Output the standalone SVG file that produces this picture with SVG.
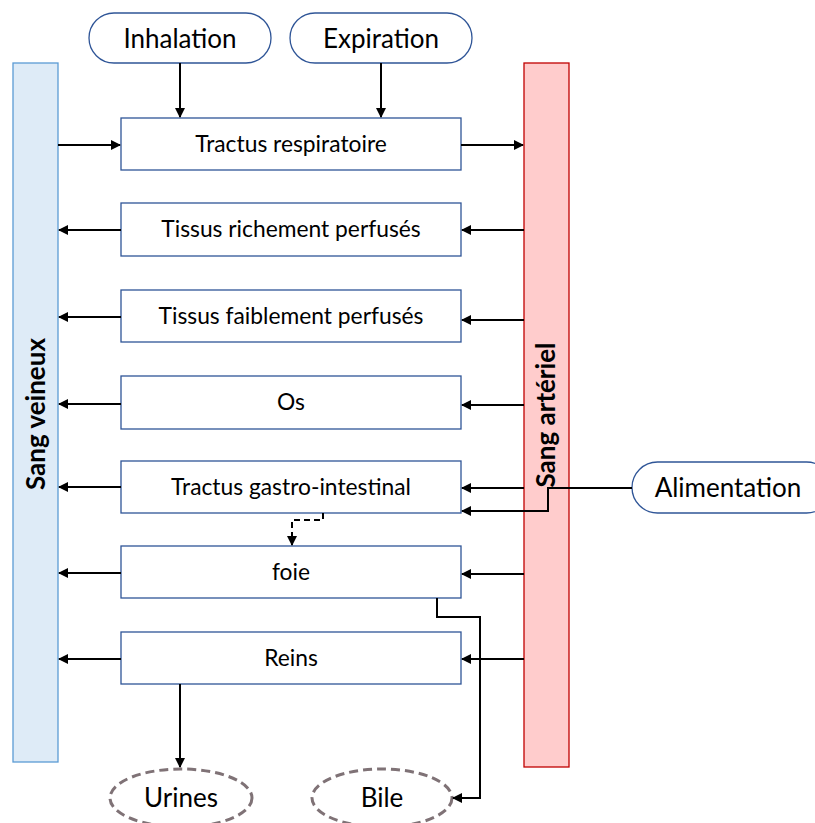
<svg xmlns="http://www.w3.org/2000/svg" width="815" height="823" viewBox="0 0 815 823">
<style>
text{font-family:Lato,"Liberation Sans",sans-serif;fill:#000}
.box{fill:#fff;stroke:#2F5597;stroke-width:1.3}
.pill{fill:#fff;stroke:#2F5597;stroke-width:1.3}
.ell{fill:#fff;stroke:#7F7276;stroke-width:3;stroke-dasharray:9 5}
.t{font-size:22.8px;text-anchor:middle}
.tp{font-size:26px;text-anchor:middle}
.c{fill:none;stroke:#000;stroke-width:2}
.d{fill:none;stroke:#000;stroke-width:2;stroke-dasharray:6 4}
</style>
<defs>
<marker id="ah" viewBox="0 0 10 10" refX="9" refY="5" markerWidth="5" markerHeight="5" orient="auto-start-reverse" markerUnits="strokeWidth">
<path d="M0,0 L10,5 L0,10 z" fill="#000"/>
</marker>
</defs>
<g id="sang-veineux">
<rect x="13" y="63" width="45" height="699" fill="#DEEBF7" stroke="#5B9BD5" stroke-width="1.3"/>
<text transform="translate(45,414) rotate(-90)" font-size="26" font-weight="bold" text-anchor="middle">Sang veineux</text>
</g>
<g id="sang-arteriel">
<rect x="524" y="63" width="45" height="704" fill="#FFCCCC" stroke="#C00000" stroke-width="1.3"/>
<text transform="translate(555,415) rotate(-90)" font-size="26" font-weight="bold" text-anchor="middle">Sang artériel</text>
</g>
<g id="inhalation"><rect class="pill" x="89" y="13" width="182" height="50" rx="25"/><text class="tp" x="180" y="48">Inhalation</text></g>
<g id="expiration"><rect class="pill" x="290" y="13" width="182" height="50" rx="25"/><text class="tp" x="381" y="48">Expiration</text></g>
<g id="alimentation"><rect class="pill" x="632" y="462" width="200" height="51" rx="25.5"/><text class="tp" x="728" y="497">Alimentation</text></g>
<g id="tractus-respiratoire"><rect class="box" x="121" y="118" width="340" height="52"/><text class="t" x="291" y="152">Tractus respiratoire</text></g>
<g id="tissus-riches"><rect class="box" x="121" y="203" width="340" height="53"/><text class="t" x="291" y="237">Tissus richement perfusés</text></g>
<g id="tissus-faibles"><rect class="box" x="121" y="290" width="340" height="52"/><text class="t" x="291" y="324">Tissus faiblement perfusés</text></g>
<g id="os"><rect class="box" x="121" y="376" width="340" height="53"/><text class="t" x="291" y="410">Os</text></g>
<g id="tractus-gi"><rect class="box" x="121" y="461" width="340" height="52"/><text class="t" x="291" y="495">Tractus gastro-intestinal</text></g>
<g id="foie"><rect class="box" x="121" y="546" width="340" height="52"/><text class="t" x="291" y="580">foie</text></g>
<g id="reins"><rect class="box" x="121" y="632" width="340" height="52"/><text class="t" x="291" y="666">Reins</text></g>
<g id="urines"><ellipse class="ell" cx="181" cy="798" rx="71" ry="29"/><text class="tp" x="181" y="807">Urines</text></g>
<g id="bile"><ellipse class="ell" cx="382" cy="798" rx="70" ry="29"/><text class="tp" x="382" y="807">Bile</text></g>
<g id="connectors">
<path class="c" d="M180,63 V117" marker-end="url(#ah)"/>
<path class="c" d="M381,63 V117" marker-end="url(#ah)"/>
<path class="c" d="M58,145 H120" marker-end="url(#ah)"/>
<path class="c" d="M461,145 H523" marker-end="url(#ah)"/>
<path class="c" d="M121,230 H59" marker-end="url(#ah)"/>
<path class="c" d="M121,317 H59" marker-end="url(#ah)"/>
<path class="c" d="M121,404 H59" marker-end="url(#ah)"/>
<path class="c" d="M121,487 H59" marker-end="url(#ah)"/>
<path class="c" d="M121,573 H59" marker-end="url(#ah)"/>
<path class="c" d="M121,659 H59" marker-end="url(#ah)"/>
<path class="c" d="M524,230 H462" marker-end="url(#ah)"/>
<path class="c" d="M524,320 H462" marker-end="url(#ah)"/>
<path class="c" d="M524,405 H462" marker-end="url(#ah)"/>
<path class="c" d="M524,488 H462" marker-end="url(#ah)"/>
<path class="c" d="M524,574 H462" marker-end="url(#ah)"/>
<path class="c" d="M524,659 H462" marker-end="url(#ah)"/>
<path class="c" d="M632,488 H548 V511 H462" marker-end="url(#ah)"/>
<path class="d" d="M323,513 V520 H292 V545" marker-end="url(#ah)"/>
<path class="c" d="M437,598 V617 H480 V798 H453" marker-end="url(#ah)"/>
<path class="c" d="M180,684 V767" marker-end="url(#ah)"/>
</g>
</svg>
